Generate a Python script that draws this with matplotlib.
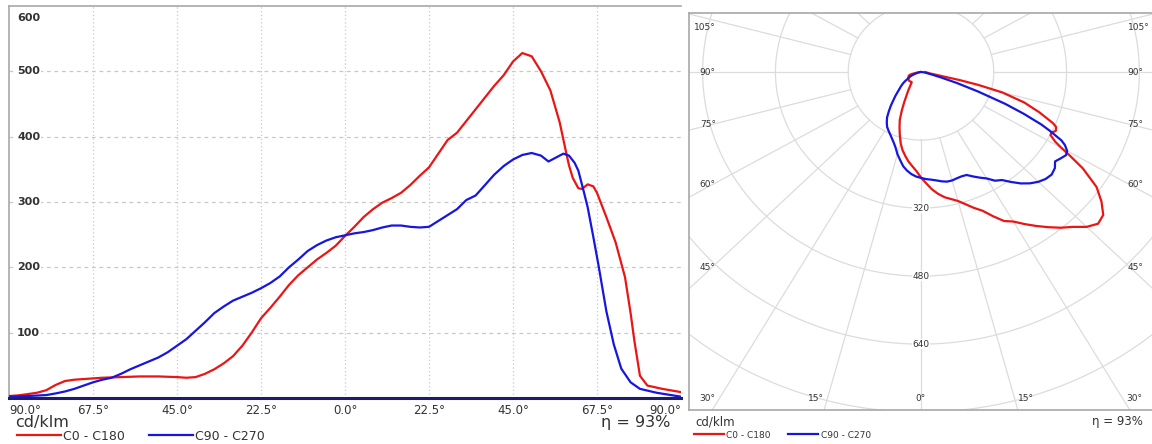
import numpy as np
import matplotlib
matplotlib.use("Agg")
import matplotlib.pyplot as plt

# luminous intensity, cd/klm
red_deg = [-90, -87.5, -85, -82.5, -80, -77.5, -75, -72.5, -70, -67.5, -65, -62.5,
           -60, -57.5, -55, -52.5, -50, -47.5, -45, -42.5, -40, -37.5, -35, -32.5,
           -30, -27.5, -25, -22.5, -20, -17.5, -15, -12.5, -10, -7.5, -5, -2.5,
           0, 2.5, 5, 7.5, 10, 12.5, 15, 17.5, 20, 22.5, 25, 27.5, 30, 32.5, 35,
           37.5, 40, 42.5, 45, 47.5, 50, 52.5, 55, 57.5, 59, 60, 61, 62.5, 63.5,
           65, 66.5, 67.5, 70, 72.5, 75, 76.5, 77.5, 79, 81, 85, 90]
red_val = [3, 4, 6, 8, 12, 20, 26, 28, 29, 30, 31, 31.5,
           32, 32.5, 33, 33, 33, 32.5, 32, 31, 32, 37, 44, 53,
           64, 80, 100, 122, 138, 155, 173, 188, 200, 212, 222, 233,
           248, 262, 277, 289, 299, 306, 314, 326, 340, 353, 374, 395, 406, 424, 442,
           460, 478, 494, 515, 528, 523, 500, 471, 422, 382, 356, 337, 321, 320,
           327, 324, 314, 277, 238, 185, 130, 88, 34, 19, 14, 9]

blue_deg = [-90, -85, -80, -77.5, -75, -72.5, -70, -67.5, -65, -62.5, -60, -57.5,
            -55, -52.5, -50, -47.5, -45, -42.5, -40, -37.5, -35, -32.5, -30, -27.5,
            -25, -22.5, -20, -17.5, -15, -12.5, -10, -7.5, -5, -2.5, 0, 2.5, 5, 7.5,
            10, 12.5, 15, 17.5, 20, 22.5, 25, 27.5, 30, 32.5, 35, 37.5, 40, 42.5,
            45, 47.5, 50, 52.5, 54.5, 56.5, 58.5, 60, 61.5, 62.5, 64, 65, 66.5, 68,
            70, 72, 74, 76.5, 79, 83.5, 90]
blue_val = [2, 3, 4.5, 7, 10, 14, 19, 24, 28, 31, 37, 44,
            50, 56, 62, 70, 80, 90, 103, 116, 130, 140, 149, 155,
            161, 168, 176, 186, 200, 212, 225, 234, 241, 246, 249, 252, 254, 257,
            261, 264, 264, 262, 261, 262, 271, 280, 289, 303, 310, 326, 342, 355,
            365, 372, 375, 371, 362, 368, 374, 371, 360, 348, 315, 292, 247, 200,
            133, 82, 45, 24, 14, 8, 2]

series = [("C0 - C180", red_deg, red_val, "#ea1515"),
          ("C90 - C270", blue_deg, blue_val, "#1616e0")]

x_ticks = [-90, -67.5, -45, -22.5, 0, 22.5, 45, 67.5, 90]
y_ticks = [100, 200, 300, 400, 500, 600]
rings = [160, 320, 480, 640, 800, 960]
ring_labels = [320, 480, 640]
efficiency = "η = 93%"
unit = "cd/klm"

W, H = 1152, 444
fig = plt.figure(figsize=(W / 100, H / 100), dpi=100)
txt = "#333333"
edge = "#a8a8a8"

# ---------------- cartesian panel ----------------
ax = fig.add_axes([9 / W, 46 / H, 672 / W, 392 / H])
ax.set_xlim(-90, 90)
ax.set_ylim(0, 600)
for y in y_ticks[:-1]:
    ax.axhline(y, color="#c8c8c8", lw=0.9, ls=(0, (3, 3)), zorder=0)
for x in x_ticks[1:-1]:
    ax.axvline(x, color="#c8c8c8", lw=0.9, ls=(0, (1, 2)), zorder=0)

lines = []
for name, deg, val, col in series:
    ln, = ax.plot(deg, val, color=col, lw=1.6, label=name, zorder=3)
    lines.append(ln)

for y in y_ticks:
    off = -12 if y == y_ticks[-1] else 0
    ax.annotate(str(y), xy=(0, y), xycoords=("axes fraction", "data"),
                xytext=(8, off), textcoords="offset pixels", ha="left", va="center",
                fontsize=8, fontweight="bold", color=txt, zorder=4,
                bbox=dict(fc="white", ec="none", pad=1))
ax.set_yticks([])
ax.set_xticks(x_ticks)
ax.set_xticklabels([f"{abs(t):.1f}°" for t in x_ticks], fontsize=8.5, color=txt)
ax.tick_params(axis="x", length=0, pad=4)
xl = ax.get_xticklabels()
xl[0].set_ha("left")
xl[-1].set_ha("right")

for s in ("left", "top"):
    ax.spines[s].set_color(edge)
    ax.spines[s].set_linewidth(1.2)
ax.spines["right"].set_visible(False)
ax.spines["bottom"].set_color("#1c1c6a")
ax.spines["bottom"].set_linewidth(2.2)

fig.text(15 / W, 1 - 422 / H, unit, fontsize=11.5, color=txt, ha="left", va="center")
fig.text(670 / W, 1 - 422 / H, efficiency, fontsize=11.5, color=txt, ha="right", va="center")
fig.legend(handles=lines, loc="center left", bbox_to_anchor=(17 / W, 1 - 436 / H),
           ncol=2, frameon=False, fontsize=9, handlelength=3.5, handletextpad=0.2,
           columnspacing=1.9, borderpad=0, borderaxespad=0, labelcolor=txt)

# ---------------- polar panel (drawn on a stretched cartesian frame) ----------------
px = fig.add_axes([689 / W, 34 / H, 464 / W, 397 / H])
px.set_xlim(-510, 510)
px.set_ylim(-795, 139)
grid = "#dcdcdc"
t = np.linspace(0, 2 * np.pi, 721)
for r in rings:
    px.plot(r * np.sin(t), -r * np.cos(t), color=grid, lw=0.9, zorder=0)
for a in range(0, 360, 15):
    th = np.radians(a)
    px.plot([160 * np.sin(th), 2000 * np.sin(th)], [-160 * np.cos(th), -2000 * np.cos(th)],
            color=grid, lw=0.9, zorder=0)

for name, deg, val, col in series:
    th = np.radians(deg)
    v = np.array(val)
    px.plot(v * np.sin(th), -v * np.cos(th), color=col, lw=1.6, zorder=3)

for r in ring_labels:
    px.text(0, -r, str(r), fontsize=6.5, color=txt, ha="center", va="center",
            bbox=dict(fc="white", ec="none", pad=0.5), zorder=4)

# angle labels along the sides
xs = 459
for a in [45, 60, 75, 90, 105]:
    th = np.radians(a)
    y = min(-xs / np.tan(th), 106)
    px.text(-xs + 8, y, f"{a}°", fontsize=6.5, color=txt, ha="right", va="center")
    px.text(xs - 5, y, f"{a}°", fontsize=6.5, color=txt, ha="left", va="center")
# angle labels along the bottom
yb = -769
for a in [0, 15, 30]:
    x = -yb * np.tan(np.radians(a))
    if a == 0:
        px.text(0, yb, "0°", fontsize=6.5, color=txt, ha="center", va="center")
    else:
        px.text(-x - 8, yb, f"{a}°", fontsize=6.5, color=txt, ha="right", va="center")
        px.text(x + 8, yb, f"{a}°", fontsize=6.5, color=txt, ha="left", va="center")

px.set_xticks([])
px.set_yticks([])
for s in ("left", "top", "bottom"):
    px.spines[s].set_color(edge)
    px.spines[s].set_linewidth(1.2)
px.spines["right"].set_visible(False)

fig.text(695 / W, 1 - 422 / H, unit, fontsize=8.5, color=txt, ha="left", va="center")
fig.text(1143 / W, 1 - 421 / H, efficiency, fontsize=8.5, color=txt, ha="right", va="center")
fig.legend(handles=lines, loc="center left", bbox_to_anchor=(694 / W, 1 - 435 / H),
           ncol=2, frameon=False, fontsize=6.5, handlelength=3.3, handletextpad=0.3,
           columnspacing=1.9, borderpad=0, borderaxespad=0, labelcolor=txt)

fig.savefig("out.png", dpi=100, facecolor="white")
